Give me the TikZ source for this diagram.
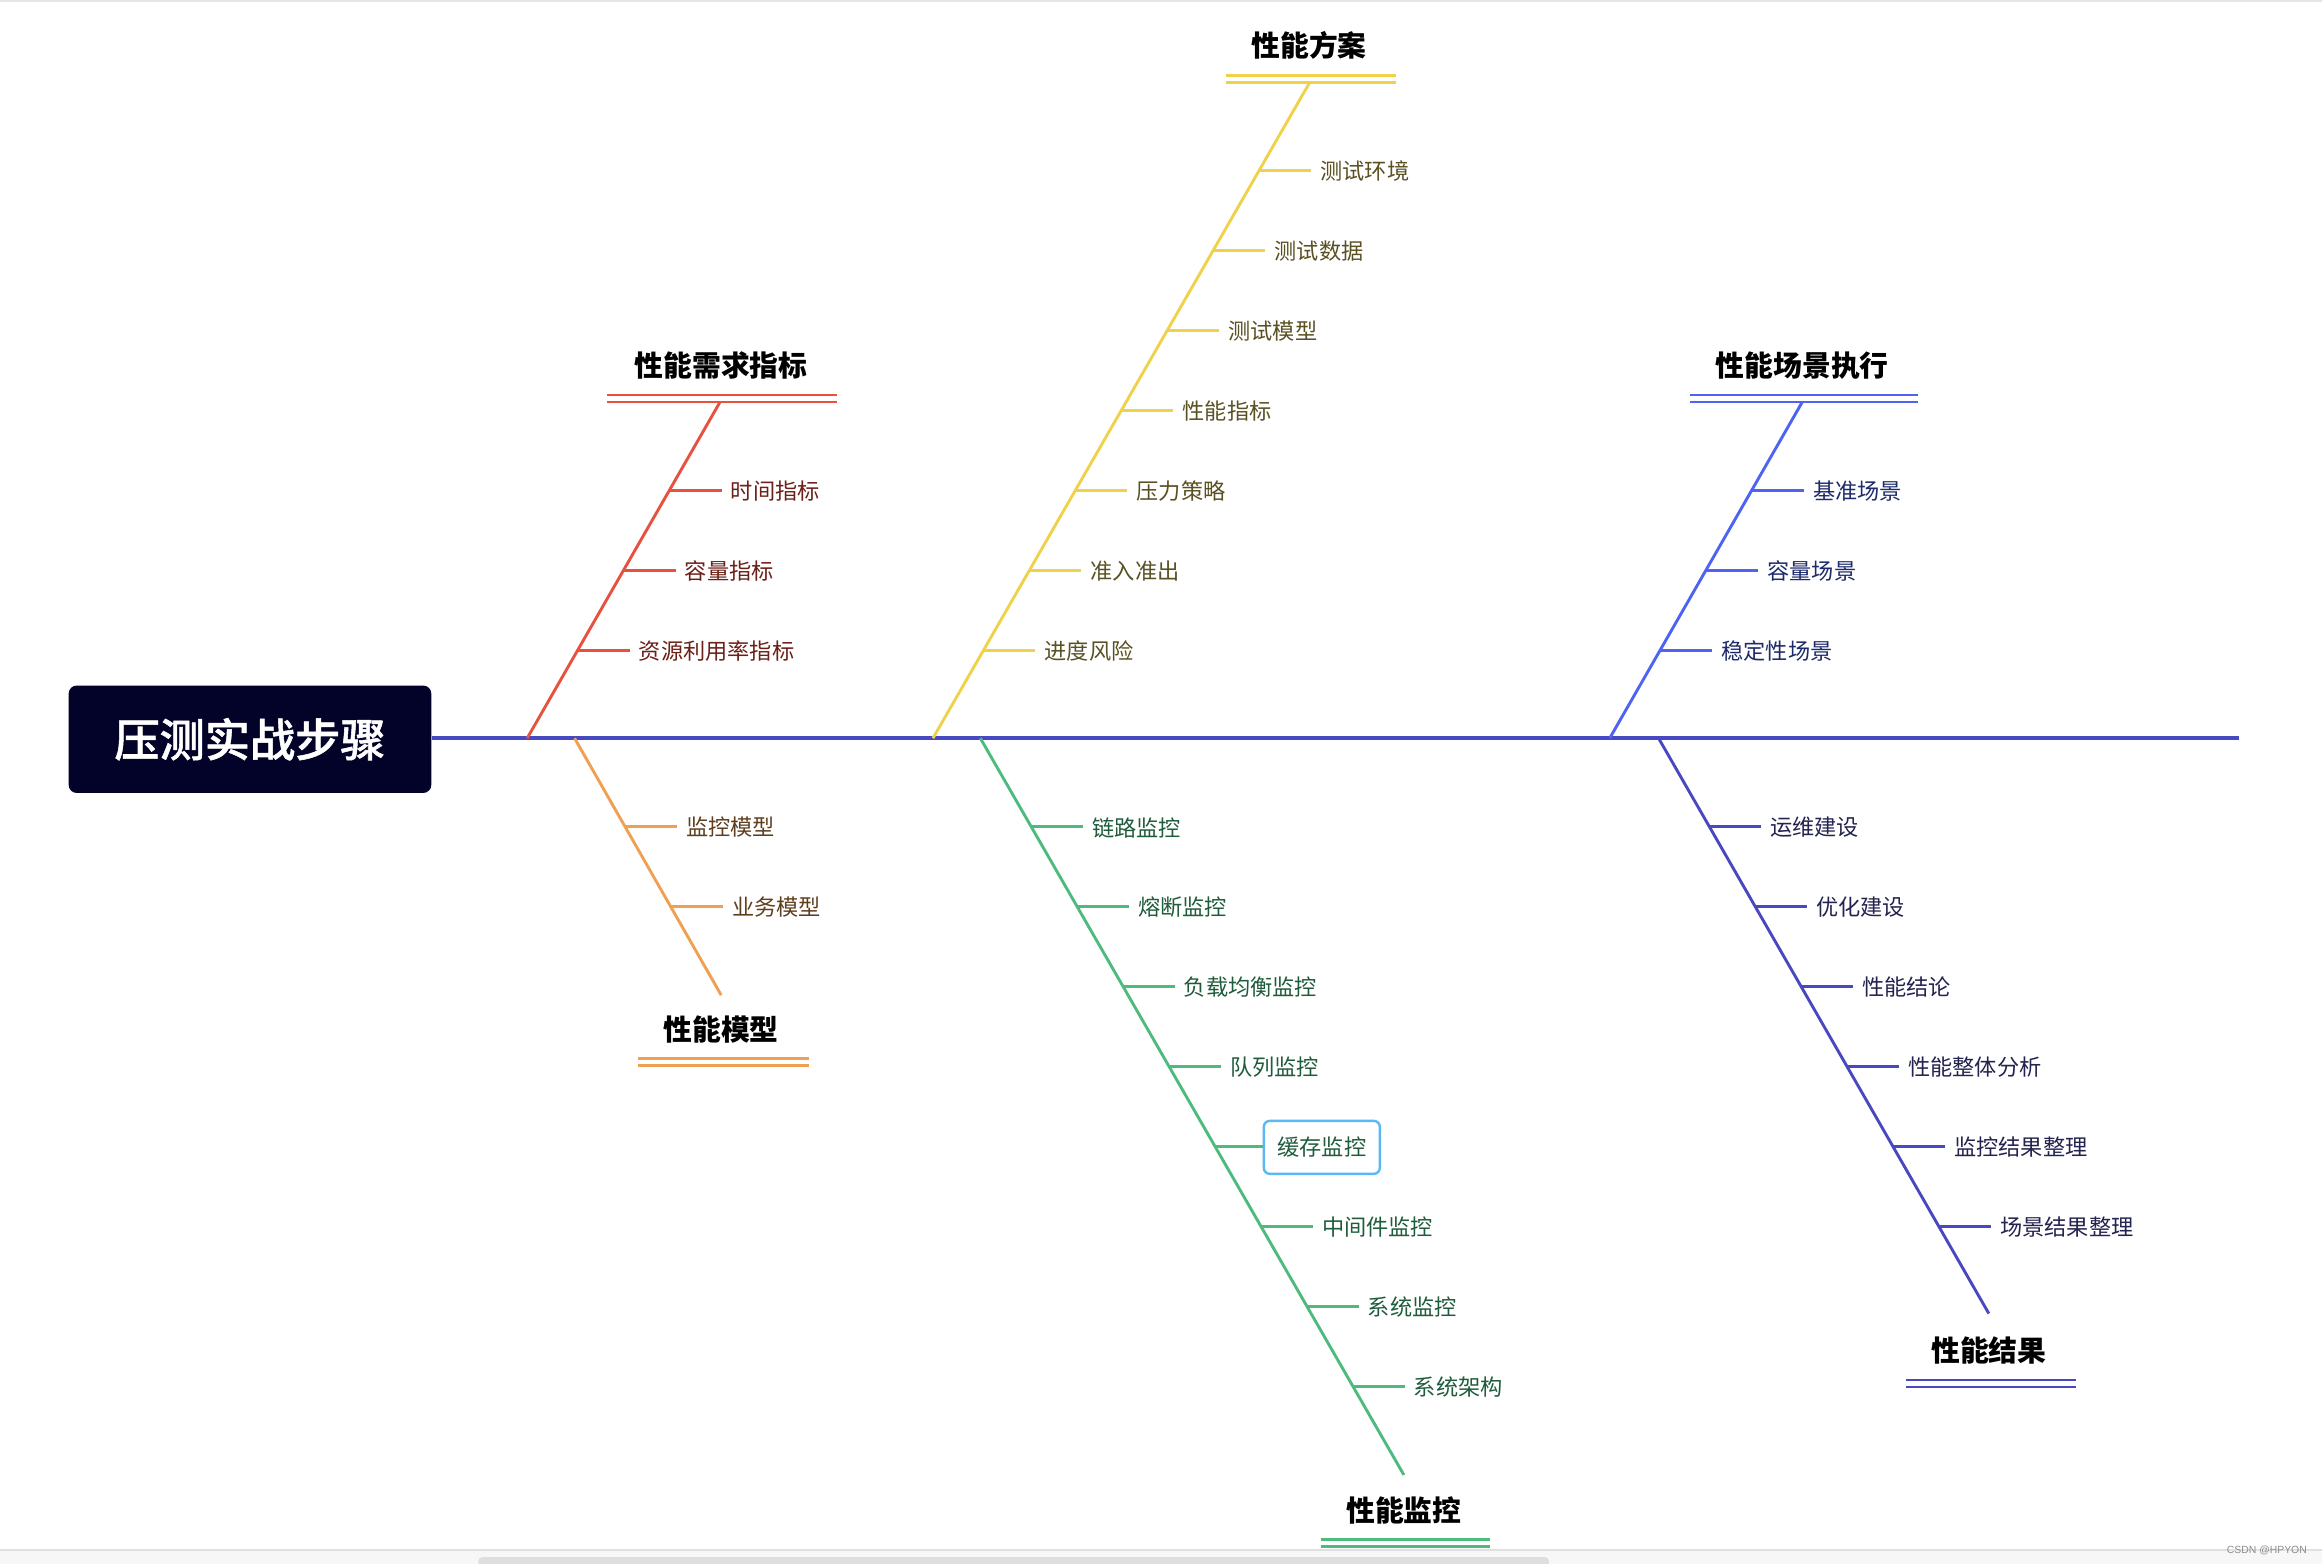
\documentclass[tikz,border=0pt]{standalone}
\usepackage{fontspec}
\setmainfont{Noto Sans CJK SC}
\newfontfamily\titlefont{Noto Sans CJK SC Medium}[FakeBold=1.2]
\newfontfamily\wmfont{Liberation Sans}
\usetikzlibrary{calc}
\definecolor{spinec}{HTML}{4848C0}
\definecolor{redc}{HTML}{E8503F}
\definecolor{redt}{HTML}{6B2018}
\definecolor{orac}{HTML}{EFA052}
\definecolor{orat}{HTML}{5E3E1E}
\definecolor{yelc}{HTML}{EFD24A}
\definecolor{yelt}{HTML}{5A5123}
\definecolor{grec}{HTML}{4DBB7E}
\definecolor{gret}{HTML}{1F5C3C}
\definecolor{bluc}{HTML}{4F63F2}
\definecolor{blut}{HTML}{1D2A6B}
\definecolor{purc}{HTML}{4848C0}
\definecolor{purt}{HTML}{23234F}
\definecolor{titlebg}{HTML}{03032A}
\definecolor{selc}{HTML}{5BB8F5}
\begin{document}
\begin{tikzpicture}[x=0.74045pt,y=-0.74045pt,
  lab/.style={anchor=west, inner xsep=4.4pt, inner ysep=2pt, yshift=-0.6pt, font=\fontsize{11.1}{13}\selectfont},
  head/.style={inner sep=1pt, yshift=-0.7pt, text=black, font=\bfseries\fontsize{14.4}{17}\selectfont},
  bone/.style={line width=1.45pt},
  uline/.style={line width=1.35pt},
  spineline/.style={line width=1.75pt, draw=spinec}]
\useasboundingbox (0,0) rectangle (1568,1056);
\fill[white] (0,0) rectangle (1568,1056);
\draw[line width=1pt, draw=black!10] (0,0.6) -- (1568,0.6);

% title
\node[fill=titlebg, text=white, rounded corners=4pt, minimum width=181.3pt, minimum height=53.7pt,
      font=\titlefont\fontsize{22.6}{26}\selectfont] (title) at (168.8,499.2) {压测实战步骤};
\coordinate (spineend) at (1512,498.5);
\draw[spineline] (title.east |- spineend) -- (spineend);

% ---------- red: 性能需求指标
\coordinate (r0) at (356,498.5);
\coordinate (rE) at (486.2,271.5);
\draw[bone, redc] (r0) -- (rE);
\node[head] (rh) at (487,246) {性能需求指标};
\draw[uline, redc] (410,266.8) -- (565,266.8) (410,271.5) -- (565,271.5);
\coordinate (r1) at (452.3,331); \node[lab, text=redt] (rl1) at (487.3,331) {时间指标};
\coordinate (r2) at (421.3,385); \node[lab, text=redt] (rl2) at (456.3,385) {容量指标};
\coordinate (r3) at (390.2,439); \node[lab, text=redt] (rl3) at (425.2,439) {资源利用率指标};
\foreach \i in {1,2,3} \draw[bone, redc] (r\i) -- (r\i -| rl\i.west);

% ---------- orange: 性能模型
\coordinate (o0) at (388,498.5);
\coordinate (oE) at (487,672);
\draw[bone, orac] (o0) -- (oE);
\node[head] (oh) at (487,694) {性能模型};
\draw[uline, orac] (431,714.8) -- (546,714.8) (431,719.5) -- (546,719.5);
\coordinate (o1) at (422.2,558); \node[lab, text=orat] (ol1) at (457.2,558) {监控模型};
\coordinate (o2) at (453.3,612); \node[lab, text=orat] (ol2) at (488.3,612) {业务模型};
\foreach \i in {1,2} \draw[bone, orac] (o\i) -- (o\i -| ol\i.west);

% ---------- yellow: 性能方案
\coordinate (y0) at (630,498.5);
\coordinate (yE) at (884.5,55.5);
\draw[bone, yelc] (y0) -- (yE);
\node[head] (yh) at (884,30) {性能方案};
\draw[uline, yelc] (828,50.8) -- (943,50.8) (828,55.5) -- (943,55.5);
\coordinate (y1) at (850.5,115); \node[lab, text=yelt] (yl1) at (885.5,115) {测试环境};
\coordinate (y2) at (819.5,169); \node[lab, text=yelt] (yl2) at (854.5,169) {测试数据};
\coordinate (y3) at (788.4,223); \node[lab, text=yelt] (yl3) at (823.4,223) {测试模型};
\coordinate (y4) at (757.4,277); \node[lab, text=yelt] (yl4) at (792.4,277) {性能指标};
\coordinate (y5) at (726.3,331); \node[lab, text=yelt] (yl5) at (761.3,331) {压力策略};
\coordinate (y6) at (695.3,385); \node[lab, text=yelt] (yl6) at (730.3,385) {准入准出};
\coordinate (y7) at (664.2,439); \node[lab, text=yelt] (yl7) at (699.2,439) {进度风险};
\foreach \i in {1,...,7} \draw[bone, yelc] (y\i) -- (y\i -| yl\i.west);

% ---------- green: 性能监控
\coordinate (g0) at (662,498.5);
\coordinate (gE) at (948,996);
\draw[bone, grec] (g0) -- (gE);
\node[head] (gh) at (948,1019) {性能监控};
\draw[uline, grec] (892,1039.8) -- (1006,1039.8) (892,1044.5) -- (1006,1044.5);
\coordinate (g1) at (696.2,558); \node[lab, text=gret] (gl1) at (731.2,558) {链路监控};
\coordinate (g2) at (727.3,612); \node[lab, text=gret] (gl2) at (762.3,612) {熔断监控};
\coordinate (g3) at (758.3,666); \node[lab, text=gret] (gl3) at (793.3,666) {负载均衡监控};
\coordinate (g4) at (789.4,720); \node[lab, text=gret] (gl4) at (824.4,720) {队列监控};
\coordinate (g5) at (820.4,774); \node[lab, text=gret, draw=selc, line width=1.2pt, rounded corners=3pt,
   inner xsep=6.8pt, minimum height=26.5pt, yshift=0.4pt] (gl5) at (852.6,774.5) {缓存监控};
\coordinate (g6) at (851.5,828); \node[lab, text=gret] (gl6) at (886.5,828) {中间件监控};
\coordinate (g7) at (882.5,882); \node[lab, text=gret] (gl7) at (917.5,882) {系统监控};
\coordinate (g8) at (913.6,936); \node[lab, text=gret] (gl8) at (948.6,936) {系统架构};
\foreach \i in {1,...,8} \draw[bone, grec] (g\i) -- (g\i -| gl\i.west);

% ---------- blue: 性能场景执行
\coordinate (b0) at (1087,498.5);
\coordinate (bE) at (1217,271.5);
\draw[bone, bluc] (b0) -- (bE);
\node[head] (bh) at (1217,246) {性能场景执行};
\draw[uline, bluc] (1141,266.8) -- (1295,266.8) (1141,271.5) -- (1295,271.5);
\coordinate (b1) at (1183.3,331); \node[lab, text=blut] (bl1) at (1218.3,331) {基准场景};
\coordinate (b2) at (1152.3,385); \node[lab, text=blut] (bl2) at (1187.3,385) {容量场景};
\coordinate (b3) at (1121.2,439); \node[lab, text=blut] (bl3) at (1156.2,439) {稳定性场景};
\foreach \i in {1,2,3} \draw[bone, bluc] (b\i) -- (b\i -| bl\i.west);

% ---------- purple: 性能结果
\coordinate (p0) at (1120,498.5);
\coordinate (pE) at (1343,887);
\draw[bone, purc] (p0) -- (pE);
\node[head] (ph) at (1343,911) {性能结果};
\draw[uline, purc] (1287,931.8) -- (1402,931.8) (1287,936.5) -- (1402,936.5);
\coordinate (p1) at (1154.2,558); \node[lab, text=purt] (pl1) at (1189.2,558) {运维建设};
\coordinate (p2) at (1185.3,612); \node[lab, text=purt] (pl2) at (1220.3,612) {优化建设};
\coordinate (p3) at (1216.3,666); \node[lab, text=purt] (pl3) at (1251.3,666) {性能结论};
\coordinate (p4) at (1247.4,720); \node[lab, text=purt] (pl4) at (1282.4,720) {性能整体分析};
\coordinate (p5) at (1278.4,774); \node[lab, text=purt] (pl5) at (1313.4,774) {监控结果整理};
\coordinate (p6) at (1309.5,828); \node[lab, text=purt] (pl6) at (1344.5,828) {场景结果整理};
\foreach \i in {1,...,6} \draw[bone, purc] (p\i) -- (p\i -| pl\i.west);

% ---------- bottom bar and watermark
\fill[black!3] (0,1047) rectangle (1568,1056);
\draw[line width=0.7pt, draw=black!12] (0,1046.8) -- (1568,1046.8);
\fill[black!13, rounded corners=2pt] (323,1051.5) rectangle (1046,1058);
\node[anchor=east, inner sep=0pt, text=black!45, font=\wmfont\fontsize{5.2}{6}\selectfont] (wm) at (1558,1047) {CSDN @HPYON};
\end{tikzpicture}
\end{document}
